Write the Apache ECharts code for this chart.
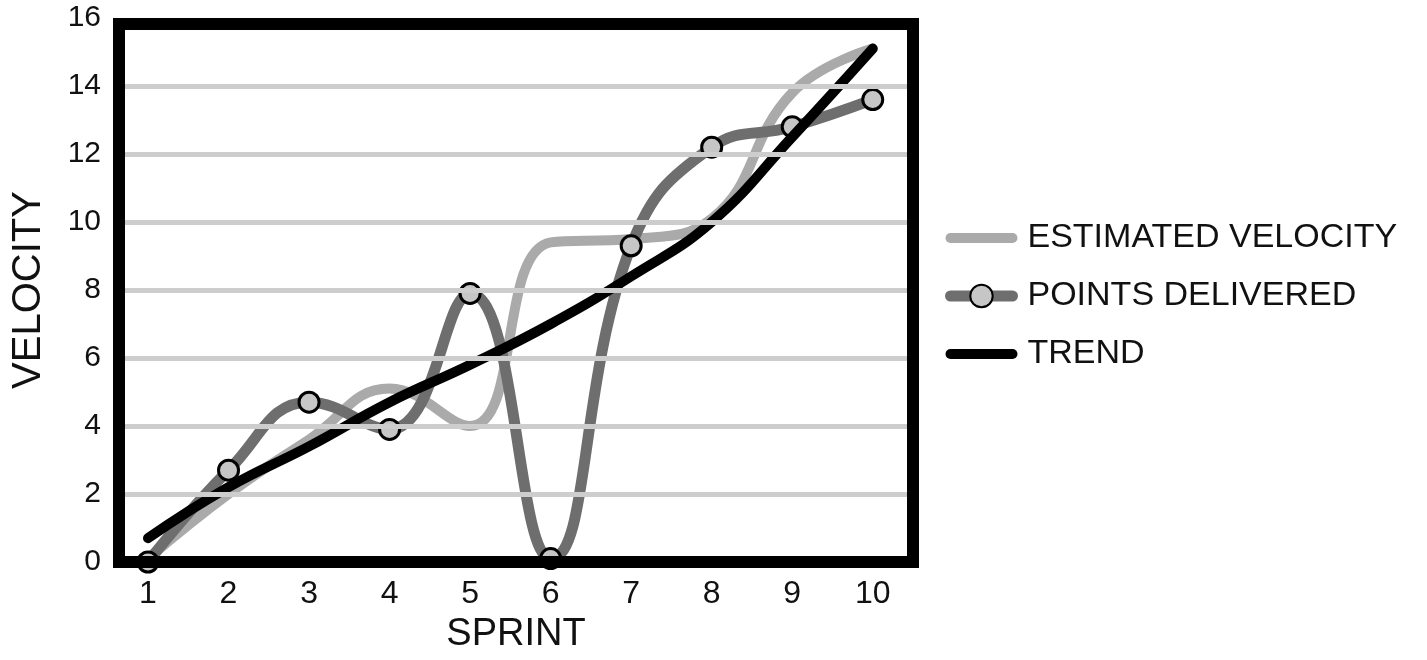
<!DOCTYPE html>
<html>
<head>
<meta charset="utf-8">
<title>Velocity per Sprint</title>
<script src="https://cdn.jsdelivr.net/npm/echarts@6/dist/echarts.min.js"></script>
<style>
  html, body { margin: 0; padding: 0; background: #ffffff; }
  #chart { width: 1427px; height: 660px; }
</style>
</head>
<body>
<div id="chart"></div>
<script>
// Sprint numbers along the x axis
const sprints = [1, 2, 3, 4, 5, 6, 7, 8, 9, 10];
// Velocity values per sprint
const estimatedVelocity = [0.1, 2.0, 3.6, 5.1, 4.0, 9.4, 9.5, 10.1, 13.8, 15.1];
const pointsDelivered   = [0.0, 2.7, 4.7, 3.9, 7.9, 0.1, 9.3, 12.2, 12.8, 13.6];
const trend             = [0.7, 2.2, 3.4, 4.7, 5.8, 7.0, 8.4, 10.0, 12.5, 15.1];
// Axis ticks
const yTicks = [0, 2, 4, 6, 8, 10, 12, 14, 16];
const seriesNames = ['ESTIMATED VELOCITY', 'POINTS DELIVERED', 'TREND'];

const FONT = '"Liberation Sans", Arial, sans-serif';
const INK = '#111111';
const pairs = arr => sprints.map((s, i) => [s, arr[i]]);

const chart = echarts.init(document.getElementById('chart'), null, { renderer: 'canvas' });

const frameLine = { show: true, onZero: false, lineStyle: { color: '#000', width: 12, cap: 'square' } };
const sideLine = { show: true, onZero: false, lineStyle: { color: '#000', width: 12, cap: 'butt' } };

chart.setOption({
  animation: false,
  backgroundColor: '#ffffff',
  grid: { left: 119, right: 514, top: 18, bottom: 98, containLabel: false },
  legend: {
    orient: 'vertical',
    left: 940,
    top: 216,
    itemWidth: 62,
    itemHeight: 28,
    itemGap: 24,
    lineStyle: { width: 'inherit', cap: 'round' },
    data: [
      { name: seriesNames[0], itemStyle: { opacity: 0 } },
      { name: seriesNames[1] },
      { name: seriesNames[2], itemStyle: { opacity: 0 } }
    ],
    textStyle: { fontFamily: FONT, fontSize: 34, color: INK, padding: [0, 0, 0, 10] }
  },
  xAxis: [
    {
      type: 'value',
      position: 'bottom',
      min: 0.64,
      max: 10.5,
      z: 5,
      name: 'SPRINT',
      nameLocation: 'middle',
      nameGap: 54,
      nameTextStyle: { fontFamily: FONT, fontSize: 38, color: INK },
      axisLine: frameLine,
      axisTick: { show: false },
      splitLine: { show: false },
      axisLabel: {
        customValues: sprints,
        margin: 16,
        fontFamily: FONT,
        fontSize: 32,
        color: INK
      }
    },
    {
      type: 'value',
      position: 'top',
      min: 0.64,
      max: 10.5,
      offset: -6,
      z: 5,
      axisLine: frameLine,
      axisTick: { show: false },
      axisLabel: { show: false },
      splitLine: { show: false }
    }
  ],
  yAxis: [
    {
      type: 'value',
      position: 'left',
      min: 0,
      max: 16,
      interval: 2,
      z: 5,
      name: 'VELOCITY',
      nameLocation: 'middle',
      nameGap: 70,
      nameTextStyle: { fontFamily: FONT, fontSize: 40, color: INK },
      axisLine: sideLine,
      axisTick: { show: false },
      axisLabel: {
        customValues: yTicks,
        margin: 18,
        fontFamily: FONT,
        fontSize: 30,
        color: INK
      },
      splitLine: {
        show: true,
        showMinLine: false,
        showMaxLine: false,
        lineStyle: { color: '#cdcdcd', width: 5 }
      }
    },
    {
      type: 'value',
      position: 'right',
      min: 0,
      max: 16,
      interval: 2,
      z: 5,
      axisLine: sideLine,
      axisTick: { show: false },
      axisLabel: { show: false },
      splitLine: { show: false }
    }
  ],
  series: [
    {
      name: seriesNames[0],
      type: 'line',
      data: pairs(estimatedVelocity),
      smooth: 0.45,
      symbol: 'none',
      lineStyle: { color: '#aaaaaa', width: 10, cap: 'round' },
      itemStyle: { color: '#aaaaaa' },
      z: 2
    },
    {
      name: seriesNames[1],
      type: 'line',
      data: pairs(pointsDelivered),
      smooth: 0.45,
      symbol: 'circle',
      symbolSize: 20,
      showSymbol: true,
      lineStyle: { color: '#6e6e6e', width: 11, cap: 'round' },
      itemStyle: { color: '#c6c6c6', borderColor: '#000', borderWidth: 3 },
      z: 3
    },
    {
      name: seriesNames[2],
      type: 'line',
      data: pairs(trend),
      smooth: 0.45,
      symbol: 'none',
      lineStyle: { color: '#000000', width: 10, cap: 'round' },
      itemStyle: { color: '#000000' },
      z: 4
    }
  ]
});
</script>
</body>
</html>
